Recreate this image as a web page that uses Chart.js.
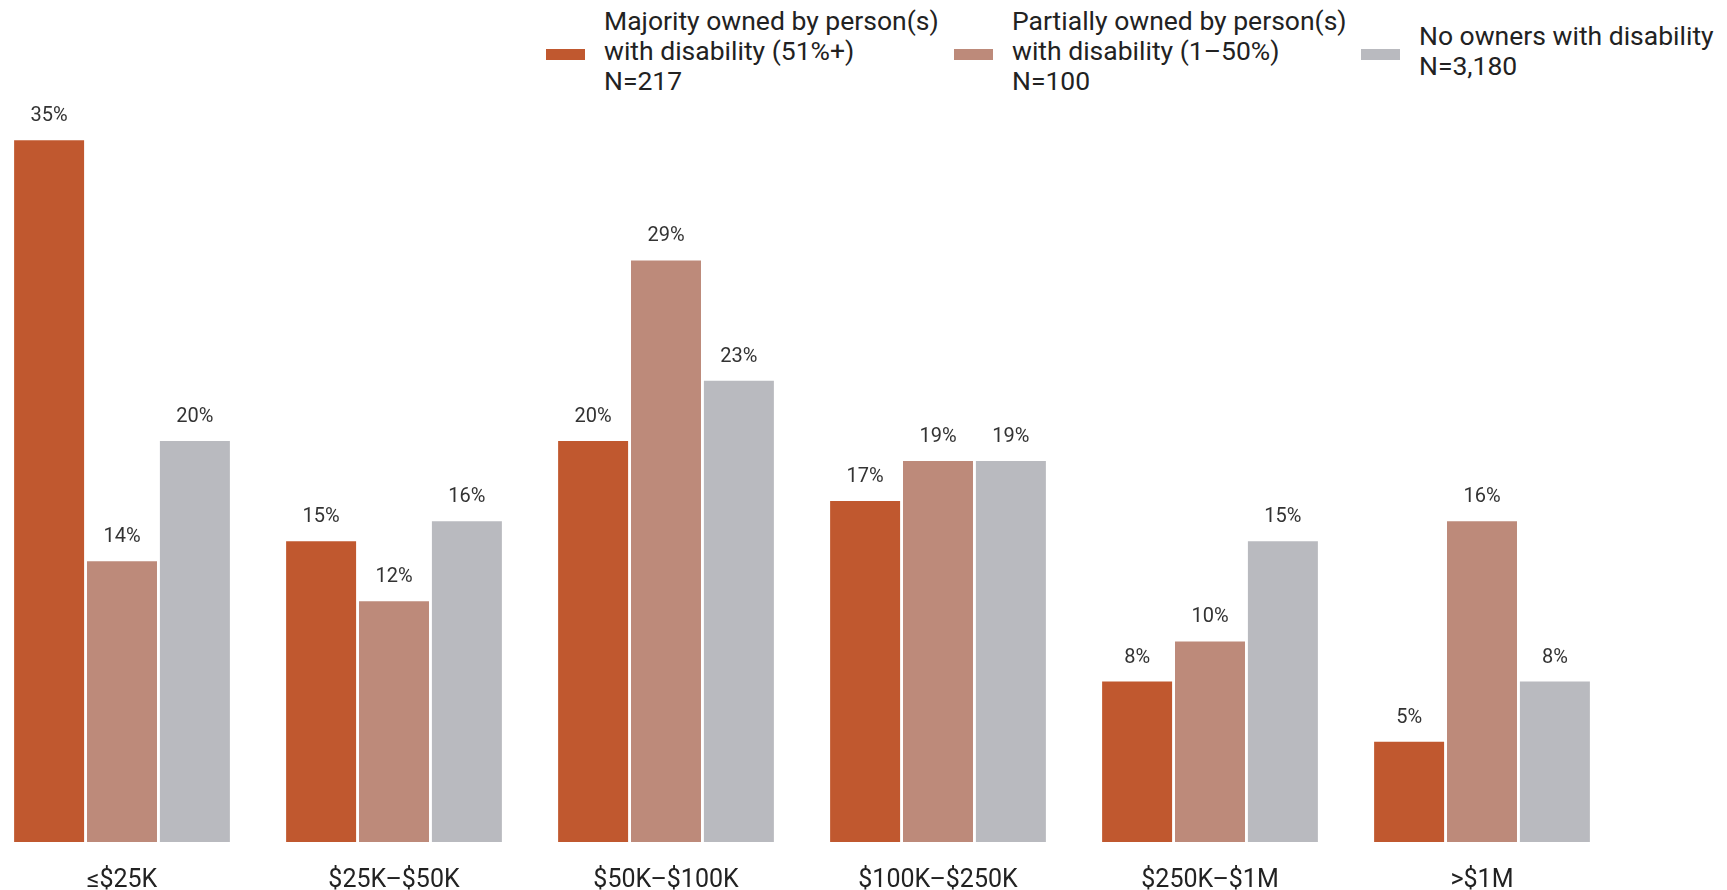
<!DOCTYPE html>
<html>
<head>
<meta charset="utf-8">
<script src="https://cdn.jsdelivr.net/npm/chart.js@4"></script>
<style>
  html, body { margin: 0; padding: 0; background: #fff; }
  #wrap { position: relative; width: 1727px; height: 890px; overflow: hidden; font-family: Roboto, sans-serif; }
  #chart-box { position: absolute; left: -14px; top: 0; width: 1632px; height: 919px; }
  #legend { position: absolute; top: 6px; left: 0; width: 1727px; height: 90px; }
  .lg-item { position: absolute; top: 0; height: 90px; display: flex; align-items: center; }
  .lg-box { width: 39px; height: 11px; margin-top: 6px; margin-right: 19px; flex: none; }
  .lg-text { font-size: 26.5px; line-height: 30px; color: #222; white-space: nowrap; }
</style>
</head>
<body>
<div id="wrap">
  <div id="legend"></div>
  <div id="chart-box"><canvas id="grafik"></canvas></div>
</div>
<script>
function $id(id) { return document.getElementById(id); }

const categories = ["≤$25K", "$25K–$50K", "$50K–$100K", "$100K–$250K", "$250K–$1M", ">$1M"];
const seriesNames = [
    ["Majority owned by person(s)", "with disability (51%+)", "N=217"],
    ["Partially owned by person(s)", "with disability (1–50%)", "N=100"],
    ["No owners with disability", "N=3,180"]
];
const majorityOwned = [35, 15, 20, 17, 8, 5];
const partiallyOwned = [14, 12, 29, 19, 10, 16];
const noOwners = [20, 16, 23, 19, 15, 8];
const barColors = ["#C0582F", "#BD8A7A", "#B9BABF"];
const legendLeft = [546, 954, 1361]; // posisi legend (px)

// label persen di atas tiap batang
const barLabels = {
    id: "barLabels",
    afterDatasetsDraw(chart) {
        const ctx = chart.ctx;
        ctx.save();
        ctx.font = "20px Roboto";
        ctx.fillStyle = "#333";
        ctx.textAlign = "center";
        ctx.textBaseline = "alphabetic";
        chart.data.datasets.forEach((ds, i) => {
            chart.getDatasetMeta(i).data.forEach((bar, j) => {
                ctx.fillText(ds.data[j] + "%", bar.x, bar.y - 19);
            });
        });
        ctx.restore();
    }
};

const series = [majorityOwned, partiallyOwned, noOwners];

window.grafik = new Chart($id("grafik"), {
    type: "bar",
    data: {
        labels: categories,
        datasets: series.map((data, i) => ({
            label: seriesNames[i].join(" "),
            data: data,
            backgroundColor: barColors[i],
            borderWidth: 0,
            barPercentage: 0.96,
            categoryPercentage: 0.804
        }))
    },
    options: {
        responsive: true,
        maintainAspectRatio: false,
        animation: false,
        layout: { padding: { top: 80, left: 0, right: 0, bottom: 0 } },
        plugins: {
            legend: { display: false },
            tooltip: { enabled: false }
        },
        scales: {
            x: {
                grid: { display: false, drawTicks: false },
                border: { display: false },
                ticks: {
                    color: "#222",
                    padding: 26,
                    maxRotation: 0,
                    font: { family: "Roboto", size: 25, lineHeight: 1 }
                }
            },
            y: {
                display: false,
                min: 0,
                max: 38
            }
        }
    },
    plugins: [barLabels]
});

// legend HTML
window.grafik.data.datasets.forEach((ds, i) => {
    const item = document.createElement("div");
    item.className = "lg-item";
    item.style.left = legendLeft[i] + "px";
    item.innerHTML = `
        <div class="lg-box" style="background:${ds.backgroundColor}"></div>
        <div class="lg-text">${seriesNames[i].join("<br>")}</div>
    `;
    $id("legend").appendChild(item);
});
</script>
</body>
</html>
